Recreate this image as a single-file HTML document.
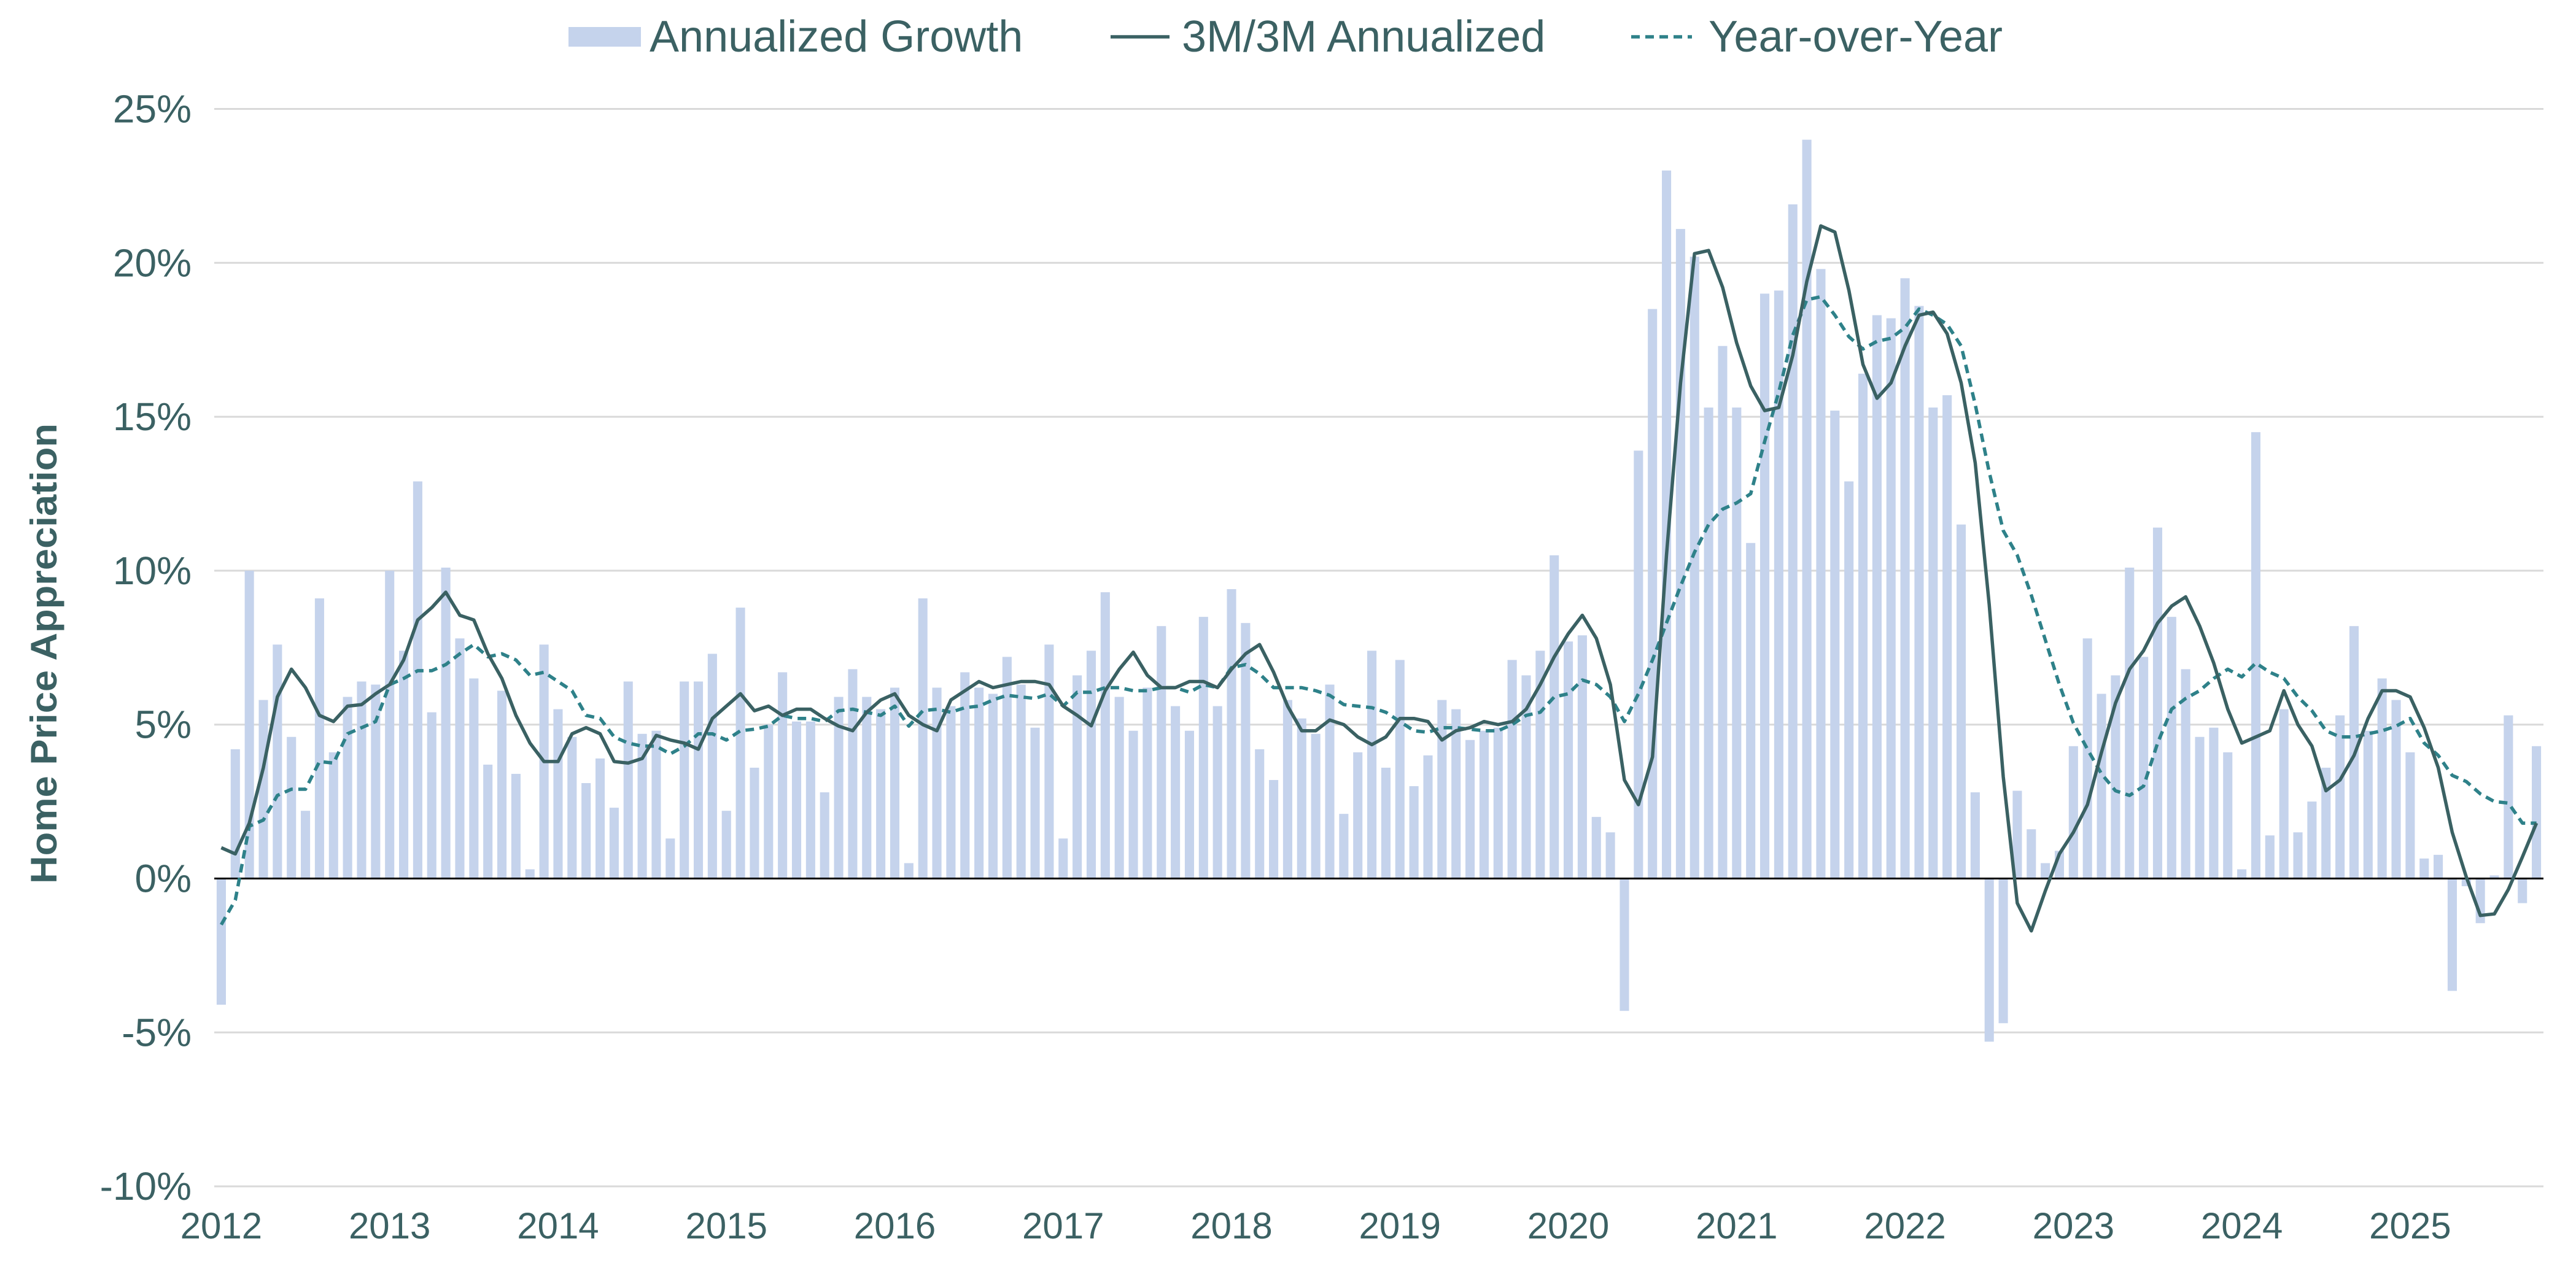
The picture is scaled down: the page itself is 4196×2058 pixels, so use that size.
<!DOCTYPE html>
<html><head><meta charset="utf-8"><title>Home Price Appreciation</title>
<style>html,body{margin:0;padding:0;background:#fff}svg{display:block}text{font-family:"Liberation Sans",Arial,sans-serif;fill:#3b6163}</style>
</head><body>
<svg id="chart" width="4196" height="2058" viewBox="0 0 4196 2058" xmlns="http://www.w3.org/2000/svg">
<g id="grid"></g>
<g id="bars"></g>
<line id="zero" stroke="#000" stroke-width="3"/>
<path id="yoy" fill="none" stroke="#2e8189" stroke-width="5.5" stroke-dasharray="14 9" stroke-linejoin="round"/>
<path id="m3" fill="none" stroke="#3a6163" stroke-width="5.5" stroke-linejoin="round"/>
<g id="ylabels"></g>
<g id="xlabels"></g>
<text transform="translate(92,1065) rotate(-90)" text-anchor="middle" font-weight="bold" font-size="60" textLength="750" lengthAdjust="spacingAndGlyphs">Home Price Appreciation</text>
<g>
  <g>
    <rect x="926" y="44" width="118" height="32" fill="#c5d3ec"/>
    <text x="1058" y="84" font-size="72">Annualized Growth</text>
  </g>
  <g>
    <line x1="1809" y1="60" x2="1905" y2="60" stroke="#3a6163" stroke-width="5.5"/>
    <text x="1925" y="84" font-size="72">3M/3M Annualized</text>
  </g>
  <g>
    <line x1="2657" y1="60" x2="2756" y2="60" stroke="#2e8189" stroke-width="5.5" stroke-dasharray="14 9"/>
    <text x="2783" y="84" font-size="72">Year-over-Year</text>
  </g>
</g>
</svg>
<script>
const yearLabels = ["2012","2013","2014","2015","2016","2017","2018","2019","2020","2021","2022","2023","2024","2025"];
const yTicks = [25,20,15,10,5,0,-5,-10];
const annualized = [
-4.1,4.2,10.0,5.8,7.6,4.6,2.2,9.1,4.1,5.9,6.4,6.3,
10.0,7.4,12.9,5.4,10.1,7.8,6.5,3.7,6.1,3.4,0.3,7.6,
5.5,4.6,3.1,3.9,2.3,6.4,4.7,4.8,1.3,6.4,6.4,7.3,
2.2,8.8,3.6,5.0,6.7,5.1,5.1,2.8,5.9,6.8,5.9,5.5,
6.2,0.5,9.1,6.2,5.6,6.7,6.2,6.0,7.2,6.3,4.9,7.6,
1.3,6.6,7.4,9.3,5.9,4.8,6.2,8.2,5.6,4.8,8.5,5.6,
9.4,8.3,4.2,3.2,5.8,5.2,4.7,6.3,2.1,4.1,7.4,3.6,
7.1,3.0,4.0,5.8,5.5,4.5,4.8,4.9,7.1,6.6,7.4,10.5,
7.7,7.9,2.0,1.5,-4.3,13.9,18.5,23.0,21.1,20.2,15.3,17.3,
15.3,10.9,19.0,19.1,21.9,24.0,19.8,15.2,12.9,16.4,18.3,18.2,
19.5,18.6,15.3,15.7,11.5,2.8,-5.3,-4.7,2.85,1.6,0.5,0.9,
4.3,7.8,6.0,6.6,10.1,7.2,11.4,8.5,6.8,4.6,4.9,4.1,
0.3,14.5,1.4,5.5,1.5,2.5,3.6,5.3,8.2,4.8,6.5,5.8,
4.1,0.65,0.77,-3.65,-0.25,-1.45,0.1,5.3,-0.8,4.3];
const threeMonth = [
1.0,0.8,1.8,3.6,5.9,6.8,6.2,5.3,5.1,5.6,5.65,6.0,
6.3,7.1,8.4,8.8,9.3,8.55,8.4,7.3,6.5,5.3,4.4,3.8,
3.8,4.7,4.9,4.7,3.8,3.75,3.9,4.65,4.5,4.4,4.2,5.2,
5.6,6.0,5.45,5.6,5.3,5.5,5.5,5.2,4.95,4.8,5.4,5.8,
6.0,5.3,5.0,4.8,5.8,6.1,6.4,6.2,6.3,6.4,6.4,6.3,
5.6,5.3,4.96,6.1,6.8,7.35,6.6,6.2,6.2,6.4,6.4,6.2,
6.8,7.3,7.6,6.7,5.6,4.8,4.8,5.15,5.0,4.6,4.35,4.6,
5.2,5.2,5.1,4.5,4.8,4.9,5.1,5.0,5.1,5.5,6.3,7.2,
7.95,8.55,7.8,6.3,3.2,2.4,3.95,10.5,16.1,20.3,20.4,19.2,
17.4,16.0,15.2,15.3,17.0,19.4,21.2,21.0,19.1,16.7,15.6,16.1,
17.3,18.3,18.4,17.7,16.1,13.5,8.9,3.3,-0.8,-1.7,-0.4,0.8,
1.5,2.4,4.1,5.7,6.8,7.4,8.3,8.85,9.15,8.2,7.0,5.5,
4.4,4.6,4.8,6.1,5.0,4.3,2.85,3.2,4.0,5.2,6.1,6.1,
5.9,4.9,3.6,1.5,0.05,-1.2,-1.15,-0.35,0.7,1.8];
const yearOverYear = [
-1.5,-0.7,1.7,1.9,2.7,2.9,2.9,3.8,3.75,4.7,4.9,5.1,
6.3,6.5,6.75,6.75,6.95,7.3,7.6,7.2,7.3,7.1,6.6,6.7,
6.4,6.1,5.3,5.2,4.6,4.4,4.3,4.3,4.05,4.3,4.7,4.7,
4.5,4.8,4.85,4.95,5.3,5.2,5.2,5.1,5.45,5.5,5.4,5.3,
5.6,4.95,5.45,5.5,5.4,5.55,5.6,5.8,5.95,5.9,5.85,6.0,
5.6,6.05,6.05,6.2,6.2,6.1,6.1,6.2,6.2,6.05,6.3,6.2,
6.85,6.95,6.65,6.2,6.2,6.2,6.1,5.95,5.65,5.6,5.55,5.4,
5.1,4.8,4.75,4.9,4.9,4.85,4.8,4.8,5.0,5.3,5.4,5.9,
6.0,6.45,6.3,5.9,5.1,6.0,7.1,8.3,9.5,10.6,11.5,12.0,
12.2,12.5,14.2,15.8,17.65,18.8,18.9,18.3,17.6,17.2,17.45,17.55,
17.9,18.5,18.3,18.0,17.3,15.4,13.2,11.3,10.5,9.2,7.75,6.3,
5.05,4.2,3.4,2.85,2.7,3.0,4.4,5.5,5.85,6.1,6.5,6.8,
6.55,7.0,6.7,6.5,5.9,5.45,4.8,4.6,4.6,4.7,4.8,4.95,
5.2,4.4,4.0,3.35,3.15,2.75,2.5,2.45,1.8,1.8];

const NS = "http://www.w3.org/2000/svg";
const X0 = 349, X1 = 4143, Y0 = 1431.5, PER = 50.16;
const n = annualized.length;
const band = (X1 - X0) / n;
function xc(i){ return X0 + (i + 0.5) * band; }
function yv(v){ return Y0 - v * PER; }

const grid = document.getElementById('grid');
const yl = document.getElementById('ylabels');
yTicks.forEach(t => {
  if (t !== 0) {
    const l = document.createElementNS(NS,'line');
    l.setAttribute('x1',X0); l.setAttribute('x2',X1);
    l.setAttribute('y1',yv(t)); l.setAttribute('y2',yv(t));
    l.setAttribute('stroke','#d9d9d9'); l.setAttribute('stroke-width','3');
    
    
    grid.appendChild(l);
  }
  const tx = document.createElementNS(NS,'text');
  tx.setAttribute('x',312); tx.setAttribute('y',yv(t)+22);
  tx.setAttribute('text-anchor','end'); tx.setAttribute('font-size','64');
  tx.textContent = t + '%';
  
  
  yl.appendChild(tx);
});
const z = document.getElementById('zero');
z.setAttribute('x1',X0); z.setAttribute('x2',X1); z.setAttribute('y1',yv(0)); z.setAttribute('y2',yv(0));

const bg = document.getElementById('bars');
const bw = band * 0.66;
annualized.forEach((v,i) => {
  const r = document.createElementNS(NS,'rect');
  r.setAttribute('x', xc(i) - bw/2);
  r.setAttribute('y', Math.min(yv(v), yv(0)));
  r.setAttribute('width', bw);
  r.setAttribute('height', Math.abs(yv(v) - yv(0)));
  r.setAttribute('fill', '#c5d3ec');
  
  
  bg.appendChild(r);
});
function pathOf(arr){ return arr.map((v,i)=>(i?'L':'M')+xc(i).toFixed(1)+' '+yv(v).toFixed(1)).join(' '); }
document.getElementById('m3').setAttribute('d', pathOf(threeMonth));
document.getElementById('yoy').setAttribute('d', pathOf(yearOverYear));

const xl = document.getElementById('xlabels');
yearLabels.forEach((lab,k) => {
  const tx = document.createElementNS(NS,'text');
  tx.setAttribute('x', xc(k*12)); tx.setAttribute('y', 2018);
  tx.setAttribute('text-anchor','middle'); tx.setAttribute('font-size','60');
  tx.textContent = lab;
  
  
  xl.appendChild(tx);
});
</script>
</body></html>
